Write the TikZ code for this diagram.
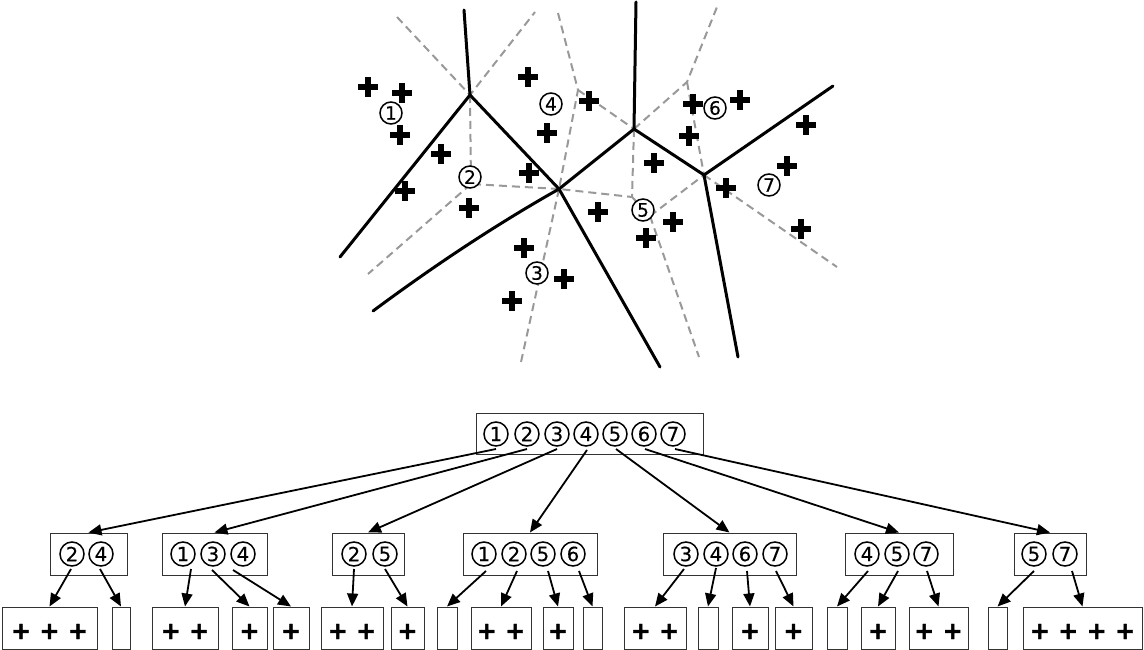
\documentclass[tikz,border=0pt]{standalone}
\usepackage{fontspec}
\setmainfont{DejaVu Sans}
\newfontfamily\plusfont[FakeBold=1.6]{DejaVu Sans Bold}
\newfontfamily\digfont[FakeBold=0.4]{DejaVu Sans}
\usetikzlibrary{arrows.meta,calc}
\tikzset{
  crs/.pic={\draw[line width=5.5pt] (-10,0)--(10,0) (0,-10)--(0,10);},
}
\newcommand\arw[3]{\draw[arr] ($(#1)+(#2)$) -- (#3.north);}
\newcommand\lf[4]{\node[leaf, minimum width=#3pt] (#1) at (#2,628) {\raisebox{-11pt}[0pt][0pt]{#4}};}
\begin{document}
\begin{tikzpicture}[x=1pt,y=-1pt,
  vline/.style={line width=3pt, black, line cap=round},
  dline/.style={line width=2pt, black!40, dash pattern=on 8pt off 5pt},
  site/.style={circle, draw, line width=1.5pt, fill=white, minimum size=22pt, inner sep=0pt, font=\digfont\fontsize{18.5}{18.5}\selectfont},
  dig/.style={site, minimum size=24pt, font=\digfont\fontsize{19.5}{19.5}\selectfont},
  box/.style={draw=black!80, line width=1pt, minimum height=42pt, inner sep=0pt},
  leaf/.style={box, font=\plusfont\fontsize{24}{24}\selectfont},
  arr/.style={line width=1.8pt, -{Triangle[length=13pt,width=11pt]}},
]
\useasboundingbox (0,0) rectangle (1144,650);

% ---------- top partition ----------
\coordinate (V1) at (470,95);
\coordinate (V2) at (559,189);
\coordinate (V3) at (634,129);
\coordinate (V4) at (704,175);
\coordinate (E1) at (464,10);
\coordinate (E2) at (340,257);
\coordinate (E3) at (373,311);
\coordinate (E4) at (660,367);
\coordinate (E5) at (636,2);
\coordinate (E6) at (833,86);
\coordinate (E7) at (738,357);

\coordinate (P2) at (471,184);
\coordinate (P5a) at (632,197);
\coordinate (P5b) at (650,216);
\coordinate (D1) at (397,17);
\coordinate (D2) at (535,12);
\coordinate (D3) at (368,274);
\coordinate (D4) at (558,13);
\coordinate (D5) at (578,90);
\coordinate (D6) at (687,82);
\coordinate (D7) at (717,7);
\coordinate (D8) at (699,357);
\coordinate (D9) at (837,267);
\coordinate (D10) at (521,362);

\draw[dline] (D1) -- (V1) -- (D2);
\draw[dline] (V1) -- (P2) -- (V2);
\draw[dline] (P2) -- (D3);
\draw[dline] (D4) -- (D5) -- (V2);
\draw[dline] (D5) -- (V3);
\draw[dline] (V3) -- (D6) -- (D7);
\draw[dline] (D6) -- (V4);
\draw[dline] (V3) -- (P5a) -- (V2);
\draw[dline] (P5a) -- (P5b) -- (V4);
\draw[dline] (P5b) -- (D8);
\draw[dline] (V4) -- (D9);
\draw[dline] (V2) -- (D10);

\draw[vline] (E1) -- (V1) -- (E2);
\draw[vline] (V1) -- (V2) -- (E4);
\draw[vline] (V2) .. controls (497,224) and (435,265) .. (E3);
\draw[vline] (V2) -- (V3) -- (E5);
\draw[vline] (V3) -- (V4) -- (E6);
\draw[vline] (V4) -- (E7);

\foreach \p in {(368,87),(402,93),(400,135),(441,154),(405,191),(528,77),(547,133),(529,173),(589,101),(693,104),(740,100),(689,136),(654,163),(806,125),(787,166),(726,188),(469,208),(524,248),(564,279),(512,301),(598,212),(673,222),(646,238),(801,229)}
  \pic at \p {crs};

\node[site] (s1) at (391,113) {1};
\node[site] (s2) at (470,177) {2};
\node[site] (s3) at (537,273) {3};
\node[site] (s4) at (551,104) {4};
\node[site] (s5) at (643,210) {5};
\node[site] (s6) at (715,108) {6};
\node[site] (s7) at (769,185) {7};

% ---------- tree ----------
\node[box, minimum width=227pt, minimum height=41pt] (R) at (589.5,433.5) {};
\foreach \i/\x in {1/496,2/527,3/557,4/586,5/615,6/644,7/673}
  \node[dig] (r\i) at (\x,434) {\i};

\node[box, minimum width=77pt]  (A) at (88.5,554) {};
\node[box, minimum width=105pt] (B) at (214.5,554) {};
\node[box, minimum width=72pt]  (C) at (368,554) {};
\node[box, minimum width=134pt] (D) at (530,554) {};
\node[box, minimum width=133pt] (E) at (729.5,554) {};
\node[box, minimum width=108pt] (F) at (899,554) {};
\node[box, minimum width=72pt]  (G) at (1050,554) {};

\foreach \n/\i/\x in {a/2/72,a/4/101,b/1/183,b/3/213,b/4/243,c/2/354,c/5/385,
  d/1/484,d/2/514,d/5/543,d/6/573,e/3/686,e/4/716,e/6/745,e/7/775,
  f/4/867,f/5/897,f/7/926,g/5/1034,g/7/1065}
  \node[dig] (\n\i) at (\x,554) {\i};

\lf{L1}{49.5}{95}{+ + +}
\lf{L2}{121}{18}{}
\lf{L3}{185}{66}{+ +}
\lf{L4}{249.5}{35}{+}
\lf{L5}{291}{36}{+}
\lf{L6}{352}{62}{+ +}
\lf{L7}{407.5}{33}{+}
\lf{L8}{447}{20}{}
\lf{L9}{501}{60}{+ +}
\lf{L10}{558}{30}{+}
\lf{L11}{592.5}{19}{}
\lf{L12}{655}{62}{+ +}
\lf{L13}{708}{20}{}
\lf{L14}{750}{36}{+}
\lf{L15}{793.5}{37}{+}
\lf{L16}{837}{20}{}
\lf{L17}{878}{34}{+}
\lf{L18}{938.5}{59}{+ +}
\lf{L19}{997.5}{19}{}
\lf{L20}{1082.5}{119}{+ + + +}

\arw{r1}{0,15}{A}
\arw{r2}{0,15}{B}
\arw{r3}{0,15}{C}
\arw{r4}{1,16}{D}
\arw{r5}{1,15}{E}
\arw{r6}{1,15}{F}
\arw{r7}{2,15}{G}

\arw{a2}{-1,15}{L1}
\arw{a4}{-1,15}{L2}
\arw{b1}{8,15}{L3}
\arw{b3}{-1,16}{L4}
\arw{b4}{-10,16}{L5}
\arw{c2}{0,15}{L6}
\arw{c5}{0,15}{L7}
\arw{d1}{2,17}{L8}
\arw{d2}{3,17}{L9}
\arw{d5}{5,17}{L10}
\arw{d6}{6,17}{L11}
\arw{e3}{-2,15}{L12}
\arw{e4}{0,14}{L13}
\arw{e6}{2,17}{L14}
\arw{e7}{1,17}{L15}
\arw{f4}{1,17}{L16}
\arw{f5}{1,17}{L17}
\arw{f7}{1,17}{L18}
\arw{g5}{0,17}{L19}
\arw{g7}{7,17}{L20}
\end{tikzpicture}
\end{document}
